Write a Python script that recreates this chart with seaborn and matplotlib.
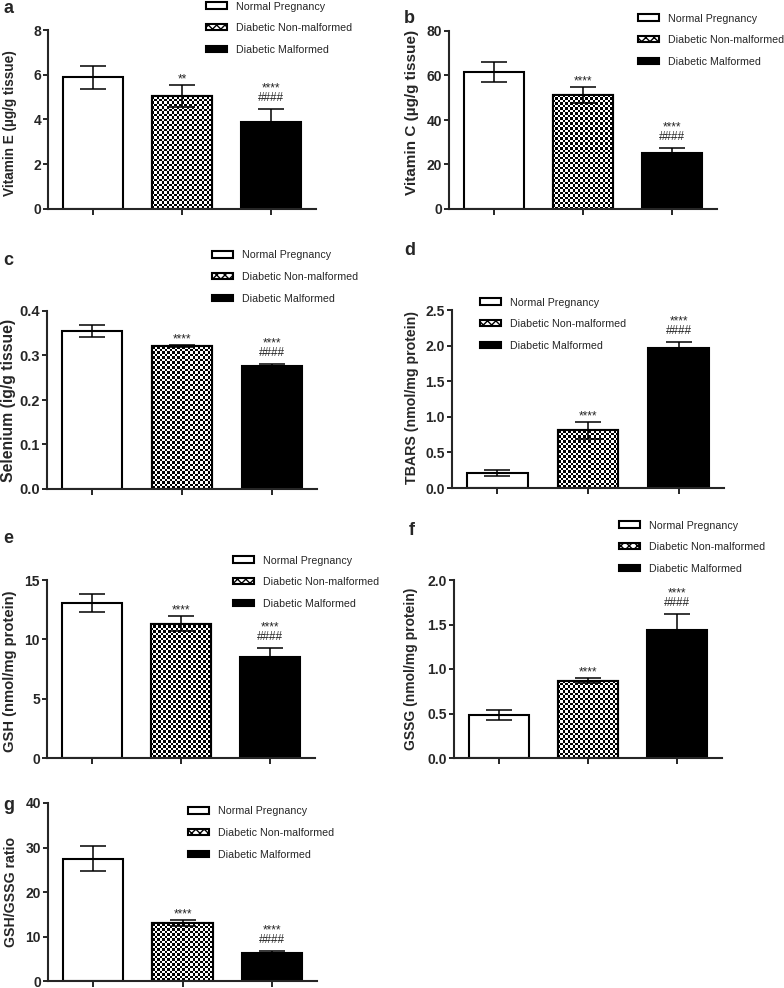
import numpy as np
import pandas as pd
import matplotlib
matplotlib.use("Agg")
import matplotlib.pyplot as plt
from matplotlib.patches import Patch, Rectangle
import seaborn as sns

# ---------------- data ----------------
groups = ["Normal Pregnancy", "Diabetic Non-malformed", "Diabetic Malformed"]

vitE_mean = [5.88, 5.05, 3.90]
vitE_err = [0.50, 0.50, 0.57]
vitC_mean = [61.6, 51.2, 25.2]
vitC_err = [4.4, 3.6, 2.2]
sel_mean = [0.355, 0.321, 0.276]
sel_err = [0.013, 0.003, 0.005]
tbars_mean = [0.21, 0.81, 1.97]
tbars_err = [0.04, 0.12, 0.08]
gsh_mean = [13.05, 11.30, 8.52]
gsh_err = [0.76, 0.63, 0.75]
gssg_mean = [0.485, 0.87, 1.44]
gssg_err = [0.055, 0.03, 0.18]
ratio_mean = [27.5, 13.0, 6.3]
ratio_err = [2.8, 0.6, 0.45]

stars_a = ["", "**", "****"]
stars_all = ["", "****", "****"]
hashes = ["", "", "####"]

panel_letters = ["a", "b", "c", "d", "e", "f", "g"]
ylabels = ["Vitamin E (µg/g tissue)", "Vitamin C (µg/g tissue)",
           "Selenium (ig/g tissue)", "TBARS (nmol/mg protein)",
           "GSH (nmol/mg protein)", "GSSG (nmol/mg protein)",
           "GSH/GSSG ratio"]
yticks_list = [[0, 2, 4, 6, 8], [0, 20, 40, 60, 80],
               [0.0, 0.1, 0.2, 0.3, 0.4], [0.0, 0.5, 1.0, 1.5, 2.0, 2.5],
               [0, 5, 10, 15], [0.0, 0.5, 1.0, 1.5, 2.0], [0, 10, 20, 30, 40]]

# ---------------- layout ----------------
W, H = 784, 988
sns.set_style("ticks")
plt.rcParams["font.family"] = ["Liberation Sans", "DejaVu Sans"]
plt.rcParams["hatch.linewidth"] = 1.0

fig = plt.figure(figsize=(W / 100, H / 100), dpi=100)

def rect(l, t, r, b):
    return [l / W, 1 - b / H, (r - l) / W, (b - t) / H]

# (left, top, right, bottom) pixels of each axes
axes_px = [(48, 30, 316, 209), (449, 31, 717, 209),
           (47, 311, 317, 489), (452, 310, 724, 488),
           (47, 580, 315, 758), (454, 580, 722, 758),
           (48, 803, 317, 981)]
# legend (handle-left x, first-row center y)
legend_px = [(206, 6), (638, 18), (212, 255), (480, 302),
             (233, 560), (619, 525), (188, 811)]
letter_px = [(3, 0), (404, 10), (3, 252), (404, 242), (3, 530), (409, 522), (3, 797)]
ylabel_cx = [10, 412, 9, 412, 10, 411, 11]
ylabel_cy = [0.48, 0.54, 0.5, 0.51, 0.49, 0.5, 0.5]
ylabel_fs = [9.8, 11.0, 11.3, 10.2, 10.6, 10.0, 10.2]
ytick_fs = [10, 10, 10.5, 10, 10, 10, 10]

means = [vitE_mean, vitC_mean, sel_mean, tbars_mean, gsh_mean, gssg_mean, ratio_mean]
errs = [vitE_err, vitC_err, sel_err, tbars_err, gsh_err, gssg_err, ratio_err]
stars = [stars_a] + [stars_all] * 6

fmt1 = {2, 3, 5}

for k in range(7):
    l, t, r, b = axes_px[k]
    ax = fig.add_axes(rect(l, t, r, b))
    df = pd.DataFrame({"group": groups, "value": means[k]})
    sns.barplot(data=df, x="group", y="value", hue="group",
                palette=["white", "white", "black"], legend=False,
                width=0.67, edgecolor="black", linewidth=1.5,
                errorbar=None, ax=ax, zorder=2)
    ax.set_xlim(-0.5, 2.5)
    yt = yticks_list[k]
    ax.set_ylim(0, yt[-1])
    ax.set_yticks(yt)
    if k in fmt1:
        ax.set_yticklabels([f"{v:.1f}" for v in yt])
    else:
        ax.set_yticklabels([f"{v:g}" for v in yt])
    ax.set_xticks([0, 1, 2])
    ax.set_xticklabels([])
    ax.set_xlabel("")
    for lab in ax.get_yticklabels():
        lab.set_fontweight("bold")
        lab.set_fontsize(ytick_fs[k])
    ax.tick_params(axis="both", direction="out", length=3.5, width=1.4, pad=1.5)
    ax.tick_params(axis="x", length=4)
    for s in ["top", "right"]:
        ax.spines[s].set_visible(False)
    for s in ["left", "bottom"]:
        ax.spines[s].set_linewidth(1.5)

    # checkerboard texture on the second bar
    bar = ax.patches[1]
    bx0, by0 = bar.get_x(), bar.get_y()
    bw, bh = bar.get_width(), bar.get_height()
    p0 = ax.transData.transform((bx0, by0))
    p1 = ax.transData.transform((bx0 + bw, by0 + bh))
    nx = max(1, int(round(abs(p1[0] - p0[0]) / 2.5)))
    ny = max(1, int(round(abs(p1[1] - p0[1]) / 2.5)))
    cb = (np.add.outer(np.arange(ny), np.arange(nx)) % 2).astype(float)
    im = ax.imshow(cb, cmap="gray", extent=(bx0, bx0 + bw, by0, by0 + bh),
                   aspect="auto", interpolation="nearest", zorder=2.1,
                   vmin=0, vmax=1)
    im.set_clip_path(bar)
    ax.add_patch(Rectangle((bx0, by0), bw, bh, fill=False, ec="black",
                           lw=1.5, zorder=2.2))
    ax.set_xlim(-0.5, 2.5)
    ax.set_ylim(0, yt[-1])

    ax.errorbar([0, 1, 2], means[k], yerr=errs[k], fmt="none",
                ecolor="black", elinewidth=1.1, capsize=9.5, capthick=1.1,
                zorder=3)

    for i in range(3):
        top = means[k][i] + errs[k][i]
        if hashes[i]:
            ax.annotate(stars[k][i] + "\n" + hashes[i], xy=(i, top),
                        xytext=(0, 3.6), textcoords="offset points",
                        ha="center", va="bottom", fontsize=8.5,
                        linespacing=0.75)
        elif stars[k][i]:
            ax.annotate(stars[k][i], xy=(i, top), xytext=(0, 2.0),
                        textcoords="offset points", ha="center",
                        va="baseline", fontsize=8.5)

    ax.set_ylabel(ylabels[k], fontsize=ylabel_fs[k], fontweight="bold")
    ax.yaxis.label.set_va("center")
    ax.yaxis.set_label_coords((ylabel_cx[k] - l) / (r - l), ylabel_cy[k])

    handles = [Patch(facecolor="white", edgecolor="black", lw=1.5, label=groups[0]),
               Patch(facecolor="white", edgecolor="black", lw=1.5, hatch="xxxx",
                     label=groups[1]),
               Patch(facecolor="black", edgecolor="black", lw=1.5, label=groups[2])]
    lx, ly = legend_px[k]
    ax.legend(handles=handles, loc="upper left",
              bbox_to_anchor=(lx / W, 1 - (ly - 4.5) / H),
              bbox_transform=fig.transFigure, frameon=False, fontsize=7.7,
              handlelength=2.0, handleheight=0.55, handletextpad=0.85,
              labelspacing=1.08, borderpad=0, borderaxespad=0)

    fx, fy = letter_px[k]
    fig.text(fx / W, 1 - fy / H, panel_letters[k], fontsize=13,
             fontweight="bold", ha="left", va="top")

fig.savefig("out.png", dpi=100)
